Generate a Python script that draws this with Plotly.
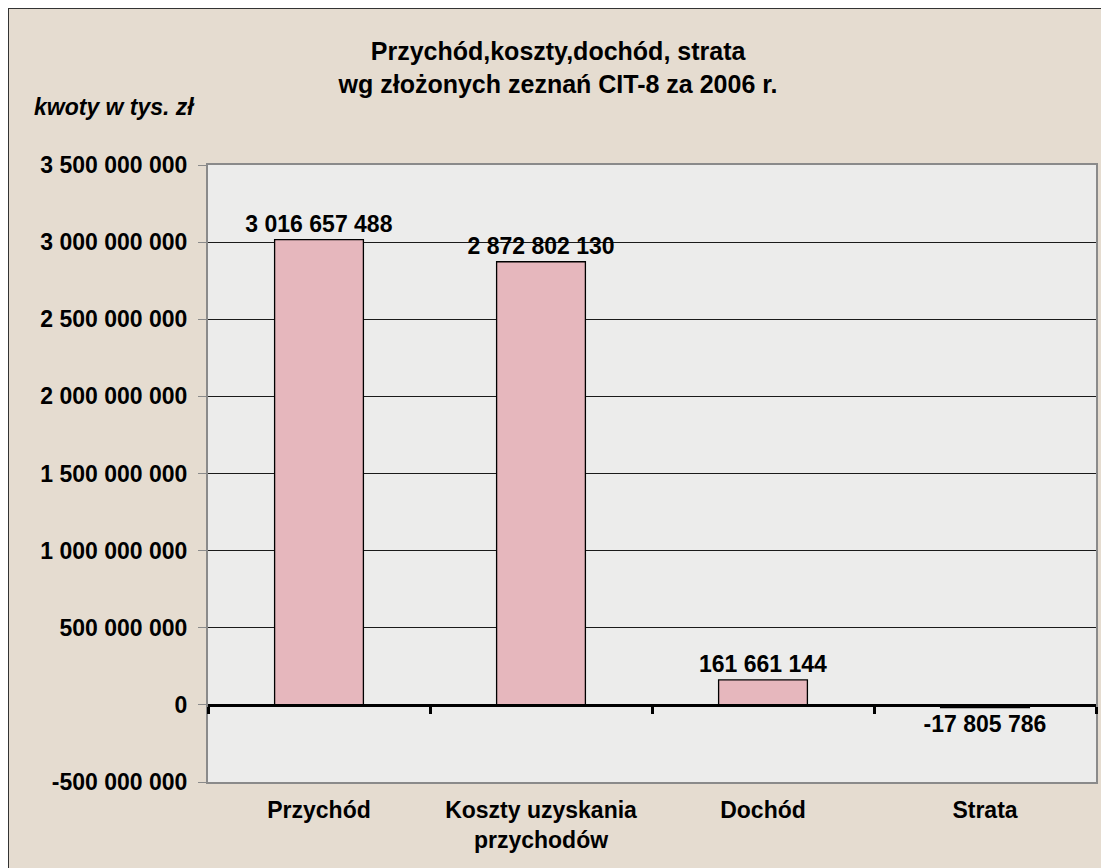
import plotly.graph_objects as go

categories = ['Przychód', 'Koszty uzyskania<br>przychodów', 'Dochód', 'Strata']
values = [3016657488, 2872802130, 161661144, -17805786]
labels = ['3 016 657 488', '2 872 802 130', '161 661 144', '-17 805 786']
y_ticks = [-500000000, 0, 500000000, 1000000000, 1500000000,
           2000000000, 2500000000, 3000000000, 3500000000]
y_tick_text = ['-500 000 000', '0', '500 000 000', '1 000 000 000', '1 500 000 000',
               '2 000 000 000', '2 500 000 000', '3 000 000 000', '3 500 000 000']

FONT = 'Liberation Sans, Arial'
bold = dict(family=FONT, size=23, color='black', weight='bold')

fig = go.Figure()
fig.add_trace(go.Bar(
    x=list(range(len(categories))), y=values,
    text=labels, textposition='outside', cliponaxis=False,
    constraintext='none', textangle=0,
    textfont=bold,
    marker=dict(color='#e6b7bd', line=dict(color='black', width=1.3)),
    width=0.4,
))
# invisible helper so the tick marks can sit on the zero line
fig.add_trace(go.Scatter(x=[-0.5, 3.5], y=[0, 0], xaxis='x2', mode='lines',
                         line=dict(width=0), hoverinfo='skip', showlegend=False))

fig.update_layout(
    width=1109, height=868,
    margin=dict(l=200, r=21, t=157, b=94, autoexpand=False),
    paper_bgcolor='#e5dcd0', plot_bgcolor='#ececeb',
    showlegend=False,
    title=dict(text='Przychód,koszty,dochód, strata<br>wg złożonych zeznań CIT-8 za 2006 r.',
               x=0.496, xanchor='center', y=0.940, yanchor='middle',
               font=dict(family=FONT, size=25, color='black', weight='bold')),
    xaxis=dict(range=[-0.5, 3.5], tickvals=list(range(len(categories))), ticktext=categories,
               tickfont=bold, showgrid=False, zeroline=False, ticks='',
               showline=True, linecolor='#8a8a8a', linewidth=2, mirror=True, ticklabelstandoff=6),
    xaxis2=dict(overlaying='x', anchor='free', position=0.125, range=[-0.5, 3.5],
                tickvals=[-0.5, 0.5, 1.5, 2.5, 3.5], showticklabels=False,
                ticks='outside', ticklen=7, tickwidth=3, tickcolor='black',
                showline=True, linecolor='black', linewidth=3, showgrid=False, zeroline=False),
    yaxis=dict(range=[-500000000, 3500000000], tickvals=y_ticks, ticktext=y_tick_text,
               tickfont=bold, showgrid=True, gridcolor='#1a1a1a', gridwidth=1,
               zeroline=False, ticks='outside', ticklen=8, tickcolor='#8a8a8a',
               showline=True, linecolor='#8a8a8a', linewidth=2, mirror=True,
               ticklabelstandoff=6, automargin=False),
    annotations=[dict(text='<i>kwoty w tys. zł</i>', xref='paper', yref='paper',
                      x=-176 / 888, y=1 + 58 / 617, xanchor='left', yanchor='middle',
                      showarrow=False, font=dict(family=FONT, size=23, color='black', weight='bold'))],
    shapes=[dict(type='rect', xref='paper', yref='paper', layer='above',
                 x0=-200 / 888, x1=1 + 21 / 888, y0=-94 / 617, y1=1 + 157 / 617,
                 line=dict(color='#333333', width=2))],
)

fig.write_html('out.html')
